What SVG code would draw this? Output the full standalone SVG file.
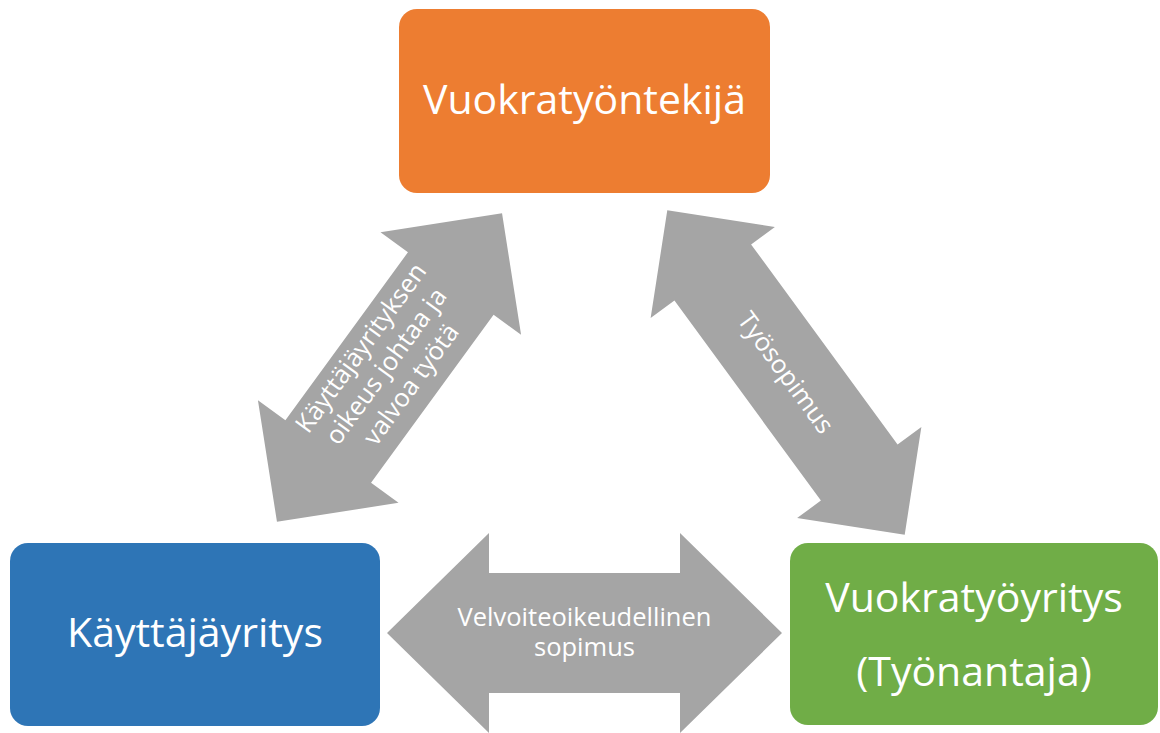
<svg xmlns="http://www.w3.org/2000/svg" width="1160" height="733" viewBox="0 0 1160 733">
<style>
.box-text{font-family:"Open Sans","Liberation Sans",sans-serif;font-size:41px;fill:#ffffff;text-anchor:middle}
.arrow{fill:#a5a5a5}
.lbl{font-family:"Open Sans","Liberation Sans",sans-serif;font-size:25.5px;fill:#ffffff;text-anchor:middle}
</style>
<rect width="1160" height="733" fill="#ffffff"/>
<g id="connectors">
  <g id="arrow-left" transform="translate(389.5,367.5) rotate(-53.9)">
    <polygon class="arrow" points="191,0 104,87 104,53 -104,53 -104,87 -191,0 -104,-87 -104,-53 104,-53 104,-87"/>
    <text class="lbl"><tspan x="-1" y="-26">Käyttäjäyrityksen</tspan><tspan x="-1" y="5">oikeus johtaa ja</tspan><tspan x="-1" y="36">valvoa työtä</tspan></text>
  </g>
  <g id="arrow-right" transform="translate(786,372.5) rotate(53.8)">
    <polygon class="arrow" points="201,0 124,77 124,47.5 -124,47.5 -124,77 -201,0 -124,-77 -124,-47.5 124,-47.5 124,-77"/>
    <text class="lbl" x="0" y="9">Työsopimus</text>
  </g>
  <g id="arrow-bottom">
    <polygon class="arrow" points="387,633 489,533 489,573 680,573 680,533 782,633 680,733 680,693 489,693 489,733"/>
    <text class="lbl"><tspan x="584.5" y="626">Velvoiteoikeudellinen</tspan><tspan x="584.5" y="656">sopimus</tspan></text>
  </g>
</g>
<g id="node-vuokratyontekija">
  <rect x="399" y="9" width="371" height="184" rx="18" fill="#ed7d31"/>
  <text class="box-text" x="584.5" y="114">Vuokratyöntekijä</text>
</g>
<g id="node-kayttajayritys">
  <rect x="10" y="543" width="370" height="183" rx="18" fill="#2e75b6"/>
  <text class="box-text" x="195" y="647">Käyttäjäyritys</text>
</g>
<g id="node-vuokratyoyritys">
  <rect x="790" y="543" width="368" height="182" rx="18" fill="#70ad47"/>
  <text class="box-text"><tspan x="974" y="612">Vuokratyöyritys</tspan><tspan x="974" y="686">(Työnantaja)</tspan></text>
</g>
</svg>
